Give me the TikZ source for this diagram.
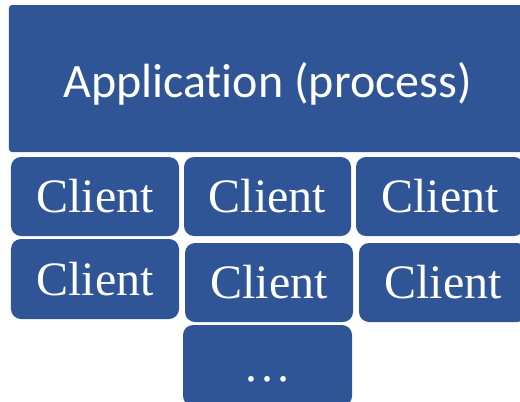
\documentclass[tikz,border=0pt]{standalone}
\usepackage{fontspec}
\setmainfont{Liberation Serif}
\newfontfamily\appfont[Ligatures=NoCommon]{Carlito}
\definecolor{tileblue}{RGB}{47,85,151}
\begin{document}
\begin{tikzpicture}[x=1bp,y=-1bp,
  tile/.style={fill=tileblue, text=white, inner sep=0pt, rounded corners=10bp,
    text height=32bp, text depth=0bp,
    font=\fontsize{48bp}{50bp}\selectfont},
  apptile/.style={tile, rounded corners=3bp, text height=37bp,
    font=\appfont\fontsize{48bp}{50bp}\selectfont}]
  \useasboundingbox (0,0) rectangle (520,401);
  % application block across the top
  \node[apptile, minimum width=517bp, minimum height=147bp] (app) at (267.5,78.5) {Application (process)};
  % first row of clients
  \node[tile, minimum width=168bp, minimum height=79bp] (c11) at (95,196.5) {Client};
  \node[tile, minimum width=167bp, minimum height=79bp] (c12) at (267.5,196.5) {Client};
  \node[tile, minimum width=168bp, minimum height=79bp] (c13) at (440,196.5) {Client};
  % second row of clients
  \node[tile, minimum width=168bp, minimum height=80bp] (c21) at (95,279) {Client};
  \node[tile, minimum width=168bp, minimum height=79bp] (c22) at (269,282.5) {Client};
  \node[tile, minimum width=168bp, minimum height=79bp] (c23) at (443,282.5) {Client};
  % continuation tile
  \node[tile, minimum width=169bp, minimum height=81bp] (more) at (267.5,365.5) {\dots};
\end{tikzpicture}
\end{document}
